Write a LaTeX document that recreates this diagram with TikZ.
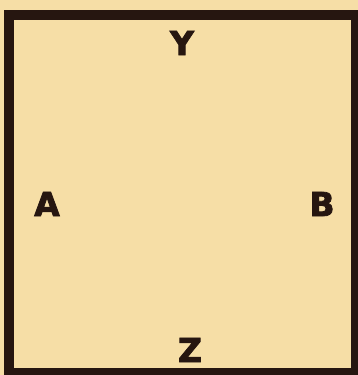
\documentclass[tikz,border=0pt]{standalone}
\usepackage{fontspec}
\setmainfont{Liberation Sans}
\newfontfamily\heavyfont[FakeBold=2.5]{DejaVu Sans Bold}
\definecolor{paper}{RGB}{246,222,166}
\definecolor{ink}{RGB}{38,22,16}
\tikzset{
  lab/.style={font=\heavyfont\fontsize{33}{33}\selectfont, text=ink, inner sep=0pt, anchor=center},
  frame/.style={draw=ink, line width=9.5pt}
}
\begin{document}
\begin{tikzpicture}[x=1pt,y=1pt]
\useasboundingbox (0,0) rectangle (358,-375);
\fill[paper] (0,0) rectangle (358,-375);
\draw[frame] (9,-15) rectangle (356,-373);
\node[lab] (Y) at (182,-43) {Y};
\node[lab] (A) at (47,-204) {A};
\node[lab] (B) at (322,-204) {B};
\node[lab] (Z) at (190,-350) {Z};
\end{tikzpicture}
\end{document}
